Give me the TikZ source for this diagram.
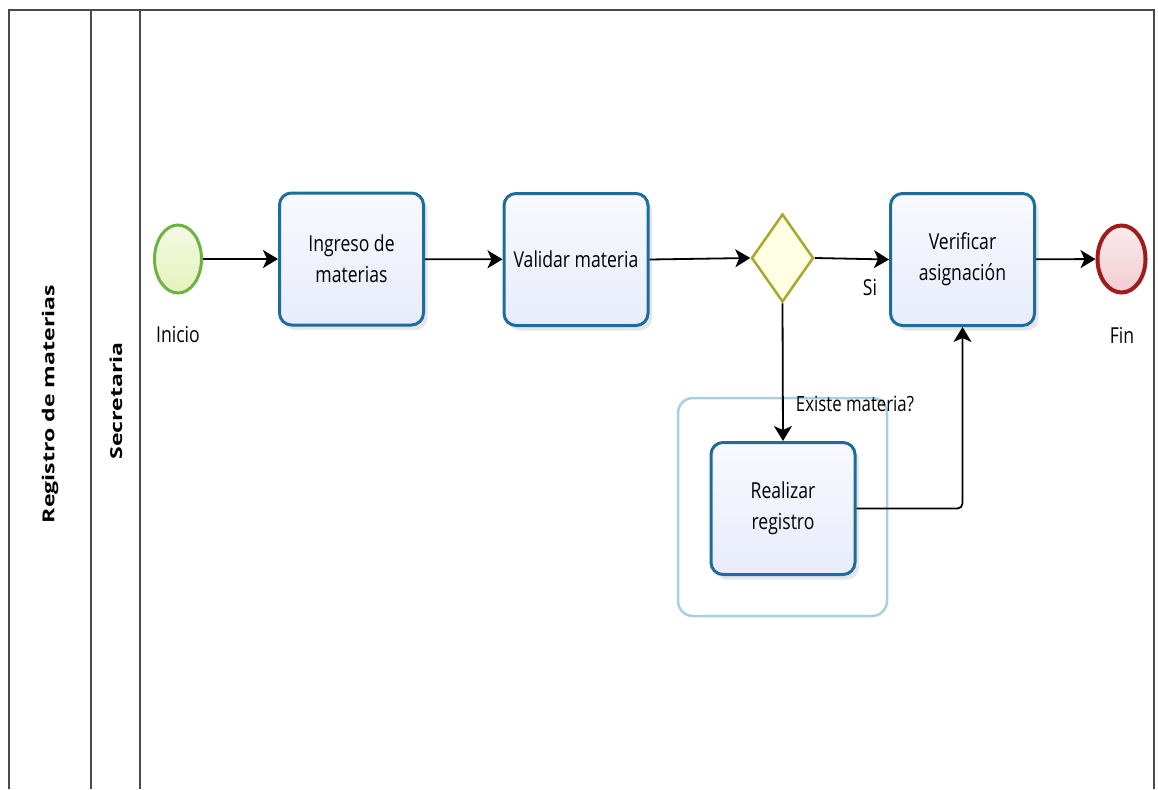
\documentclass[tikz,border=0pt]{standalone}
\usepackage{fontspec}
\setmainfont{Open Sans}[FakeStretch=0.8]
\newfontfamily\lanefont{Open Sans}[FakeStretch=1.4]
\usetikzlibrary{shapes.geometric,arrows.meta,shadows}
\definecolor{taskblue}{HTML}{1C6C9C}
\definecolor{taskfill}{HTML}{E8ECFB}
\definecolor{startgreen}{HTML}{6DB33F}
\definecolor{startfill}{HTML}{E4F2BC}
\definecolor{endred}{HTML}{A01C1C}
\definecolor{endfill}{HTML}{F2CCD2}
\definecolor{gwline}{HTML}{A8A82A}
\definecolor{gwfill}{HTML}{FFFFE4}
\definecolor{grouplue}{HTML}{A9CFE2}
\definecolor{frame}{HTML}{4A4A4A}
\tikzset{
  taskbox/.style={rectangle, rounded corners=12pt, minimum width=144pt, minimum height=132pt,
    line width=3pt, draw=taskblue, top color=white!70!taskfill, bottom color=taskfill,
    align=center, font=\fontsize{22}{31}\selectfont, inner sep=0pt,
    drop shadow={opacity=0.2, shadow xshift=4pt, shadow yshift=-5pt}},
  startev/.style={ellipse, minimum width=47pt, minimum height=68pt, line width=3pt,
    draw=startgreen, top color=white!60!startfill, bottom color=startfill, inner sep=0pt},
  endev/.style={ellipse, minimum width=48pt, minimum height=67pt, line width=4pt,
    draw=endred, top color=white!60!endfill, bottom color=endfill, inner sep=0pt},
  gateway/.style={diamond, minimum width=62pt, minimum height=88pt, line width=2.5pt,
    draw=gwline, fill=gwfill, inner sep=0pt},
  groupbox/.style={rectangle, rounded corners=15pt, minimum width=209pt, minimum height=218pt,
    line width=2.5pt, draw=grouplue},
  flow/.style={line width=1.8pt, draw=black, -{Stealth[length=15pt,width=18pt,inset=4pt]}},
  lbl/.style={font=\fontsize{22}{25}\selectfont, inner sep=0pt},
  lanetitle/.style={font=\lanefont\bfseries\fontsize{16.5}{18}\selectfont, rotate=90, inner sep=0pt},
  frameline/.style={draw=frame, line width=1.6pt}
}
\begin{document}
\begin{tikzpicture}[x=1pt,y=-1pt]
\useasboundingbox (0,0) rectangle (1158,789);
% frame
\coordinate (ftl) at (9,10);
\coordinate (ftr) at (1154,10);
\coordinate (fbl) at (9,789);
\coordinate (fbr) at (1154,789);
\coordinate (l1t) at (91,10);
\coordinate (l1b) at (91,789);
\coordinate (l2t) at (140,10);
\coordinate (l2b) at (140,789);
\draw[frameline] (fbl) -- (ftl) -- (ftr) -- (fbr);
\draw[frameline] (l1t) -- (l1b);
\draw[frameline] (l2t) -- (l2b);
\node[lanetitle] (pool) at (50,404) {Registro de materias};
\node[lanetitle] (lane) at (116,401) {Secretaria};
% group
\node[groupbox] (grp) at (782.5,507) {};
% nodes
\node[startev] (inicio) at (178,259) {};
\node[lbl] (inicioL) at (178,335) {Inicio};
\node[taskbox] (t1) at (351.5,259) {Ingreso de\\materias};
\node[taskbox] (t2) at (576,259.5) {Validar materia};
\node[gateway] (gw) at (782.5,258) {};
\node[taskbox] (t3) at (962.5,259.5) {Verificar\\asignación};
\node[endev] (fin) at (1121.5,259) {};
\node[lbl] (finL) at (1122,335) {Fin};
\node[taskbox] (t4) at (783,508.5) {Realizar\\registro};
\node[lbl] (si) at (870,288) {Si};
\node[lbl, font=\fontsize{21}{24}\selectfont] (exL) at (855,404) {Existe materia?};
% flows
\draw[flow] (inicio) -- (t1);
\draw[flow] (t1) -- (t2);
\draw[flow] (t2.east) -- (gw.west);
\draw[flow] (gw.east) -- (t3.west);
\draw[flow] (t3) -- (fin);
\draw[flow] (gw.south) -- (t4.north);
\draw[flow, rounded corners=5pt] (t4.east) -| (t3.south);
\end{tikzpicture}
\end{document}
